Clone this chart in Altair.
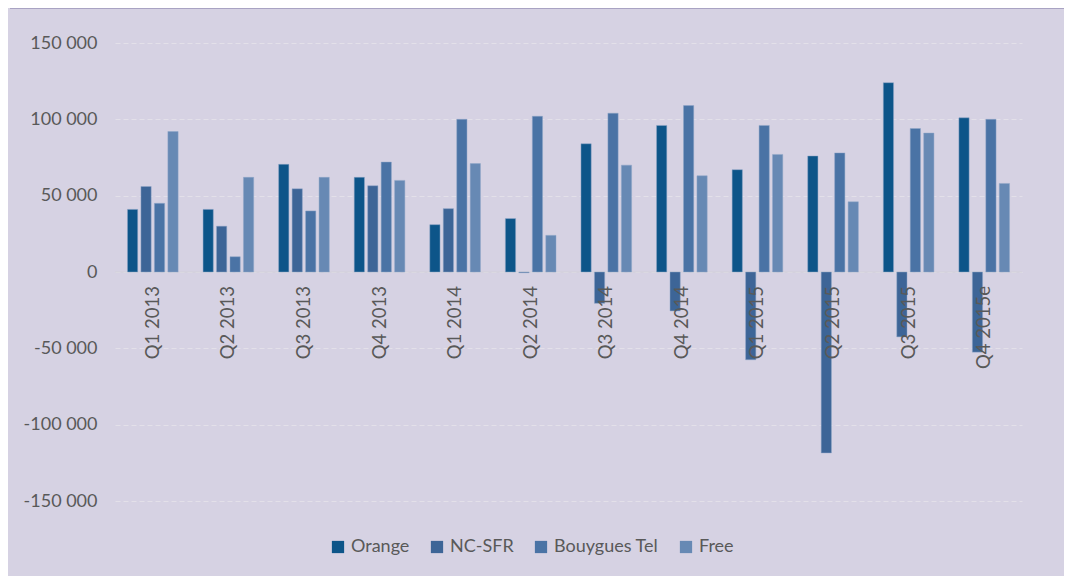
import altair as alt
import pandas as pd

quarters = ["Q1 2013", "Q2 2013", "Q3 2013", "Q4 2013", "Q1 2014", "Q2 2014",
            "Q3 2014", "Q4 2014", "Q1 2015", "Q2 2015", "Q3 2015", "Q4 2015e"]
series = ["Orange", "NC-SFR", "Bouygues Tel", "Free"]
orange = [41000, 41000, 70500, 62000, 31000, 35000, 84000, 96000, 67000, 76000, 124000, 101000]
ncsfr = [56000, 30000, 54500, 56500, 41500, -500, -20500, -25500, -57500, -118500, -42500, -52500]
bouygues = [45000, 10000, 40000, 72000, 100000, 102000, 104000, 109000, 96000, 78000, 94000, 100000]
free = [92000, 62000, 62000, 60000, 71000, 24000, 70000, 63000, 77000, 46000, 91000, 58000]
colors = ["#0D5589", "#3D6597", "#4A73A5", "#6789B4"]
y_ticks = [-150000, -100000, -50000, 0, 50000, 100000, 150000]

rows = []
for s, vals in zip(series, [orange, ncsfr, bouygues, free]):
    for q, v in zip(quarters, vals):
        rows.append({"quarter": q, "series": s, "value": v})
df = pd.DataFrame(rows)
lab = pd.DataFrame({"quarter": quarters})

FONT = "Lato"
TXT = "#595959"
BG = "#D6D2E3"

xscale = alt.Scale(domain=quarters, paddingInner=0.33, paddingOuter=0.165)
yscale = alt.Scale(domain=[-150000, 150000], nice=False, zero=False)

bars = alt.Chart(df).mark_bar(stroke="#8FA6C8", strokeWidth=0.6, strokeOpacity=0.8).encode(
    x=alt.X("quarter:N", scale=xscale, sort=quarters, axis=None),
    xOffset=alt.XOffset("series:N", sort=series, scale=alt.Scale(domain=series, paddingInner=0.24)),
    y=alt.Y("value:Q", scale=yscale, title=None,
            axis=alt.Axis(values=y_ticks, grid=True, gridDash=[5, 3], gridColor="#E3E0E9",
                          gridWidth=1, domain=False, ticks=False, labelPadding=18,
                          labelFontSize=18, labelColor=TXT, labelFont=FONT,
                          labelExpr="(datum.value < 0 ? '-' : '') + replace(format(abs(datum.value), ','), ',', ' ')")),
    color=alt.Color("series:N", sort=series,
                    scale=alt.Scale(domain=series, range=colors),
                    legend=alt.Legend(title=None, orient="none", direction="horizontal",
                                      legendX=214, legendY=495, symbolType="square",
                                      symbolSize=150, symbolStrokeWidth=0,
                                      labelFontSize=18, labelFont=FONT, labelColor=TXT,
                                      columnPadding=18, labelOffset=4)),
)

zero = alt.Chart(pd.DataFrame({"v": [0]})).mark_rule(color="#D2D0DA", strokeWidth=1.2).encode(
    y=alt.Y("v:Q", scale=yscale)
)

labels = alt.Chart(lab).mark_text(angle=270, align="right", baseline="middle", dx=-14,
                                  fontSize=18.5, font=FONT, color=TXT).encode(
    x=alt.X("quarter:N", scale=xscale, sort=quarters, axis=None),
    y=alt.datum(0),
    text="quarter:N",
)

border = alt.Chart(pd.DataFrame({"v": [0]})).mark_rule(color="#9A93B9", strokeWidth=1.5).encode(
    x=alt.value(-105), x2=alt.value(950), y=alt.value(-35)
)

chart = alt.layer(zero, bars, labels, border).properties(
    width=907, height=458,
    background=BG,
    padding={"left": 107, "top": 35, "right": 42, "bottom": 75},
    autosize=alt.AutoSizeParams(type="none"),
).configure_view(stroke=None)

chart.save("out.html", embed_options={"renderer": "svg", "actions": False})
